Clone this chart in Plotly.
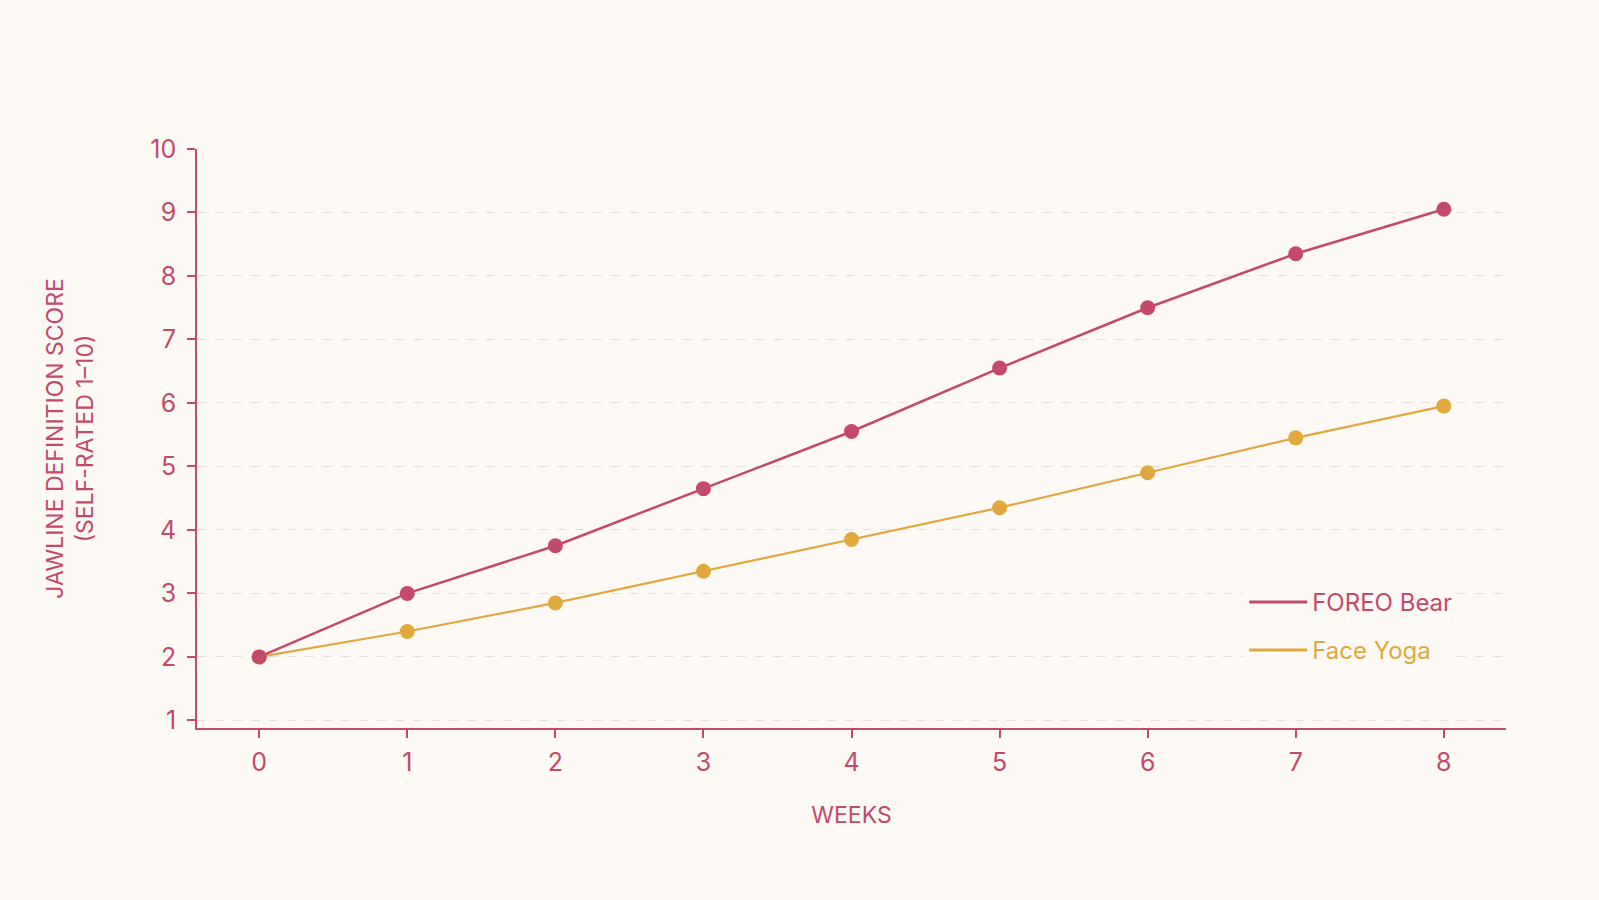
import plotly.graph_objects as go

weeks = [0, 1, 2, 3, 4, 5, 6, 7, 8]
foreo_bear = [2.0, 3.0, 3.75, 4.65, 5.55, 6.55, 7.5, 8.35, 9.05]
face_yoga = [2.0, 2.4, 2.85, 3.35, 3.85, 4.35, 4.9, 5.45, 5.95]
series_names = ["FOREO Bear", "Face Yoga"]
y_ticks = [1, 2, 3, 4, 5, 6, 7, 8, 9, 10]

CRIMSON = "#c44a6b"
GOLD = "#e0a93f"
BG = "#fdf9f5"
FONT = "Inter, Roboto, sans-serif"

fig = go.Figure()
# Draw yoga first so that the crimson point at week 0 sits on top
fig.add_trace(go.Scatter(x=weeks, y=face_yoga, mode="lines+markers", showlegend=False,
                         line=dict(color=GOLD, width=2.2), marker=dict(color=GOLD, size=15)))
fig.add_trace(go.Scatter(x=weeks, y=foreo_bear, mode="lines+markers", showlegend=False,
                         line=dict(color=CRIMSON, width=2.5), marker=dict(color=CRIMSON, size=15)))
# Legend entries (line only), text coloured per series
fig.add_trace(go.Scatter(x=[None], y=[None], mode="lines",
                         name=f'<span style="color:{CRIMSON}">{series_names[0]}</span>',
                         legendgroup="a", line=dict(color=CRIMSON, width=3)))
fig.add_trace(go.Scatter(x=[None], y=[None], mode="lines",
                         name=f'<span style="color:{GOLD}">{series_names[1]}</span>',
                         legendgroup="b", line=dict(color=GOLD, width=3)))

fig.update_layout(
    width=1599, height=900,
    paper_bgcolor=BG, plot_bgcolor=BG,
    margin=dict(l=197, r=93, t=149, b=172),
    font=dict(family=FONT, color=CRIMSON, size=22),
    legend=dict(x=0.80, y=0.256, xanchor="left", yanchor="top",
                bgcolor=BG, borderwidth=0, tracegroupgap=14,
                traceorder="grouped", itemwidth=58,
                font=dict(size=24, family=FONT)),
    xaxis=dict(range=[-0.42, 8.42], tickvals=weeks, showgrid=False, zeroline=False,
               showline=True, linecolor=CRIMSON, linewidth=1.5,
               ticks="outside", ticklen=8, tickcolor=CRIMSON, tickwidth=1.5,
               ticklabelstandoff=3,
               tickfont=dict(size=25, color=CRIMSON),
               title=dict(text="WEEKS", font=dict(size=23, color=CRIMSON), standoff=31)),
    yaxis=dict(range=[0.88, 10], tickvals=y_ticks, showgrid=True, gridcolor="#ecdcdc",
               griddash="dash", gridwidth=1, zeroline=False,
               showline=True, linecolor=CRIMSON, linewidth=1.5,
               ticks="outside", ticklen=8, tickcolor=CRIMSON, tickwidth=1.5,
               ticklabelstandoff=6,
               tickfont=dict(size=25, color=CRIMSON),
               title=dict(text="JAWLINE DEFINITION SCORE<br>(SELF-RATED 1–10)",
                          font=dict(size=23, color=CRIMSON), standoff=50)),
)

fig.write_html("out.html")
